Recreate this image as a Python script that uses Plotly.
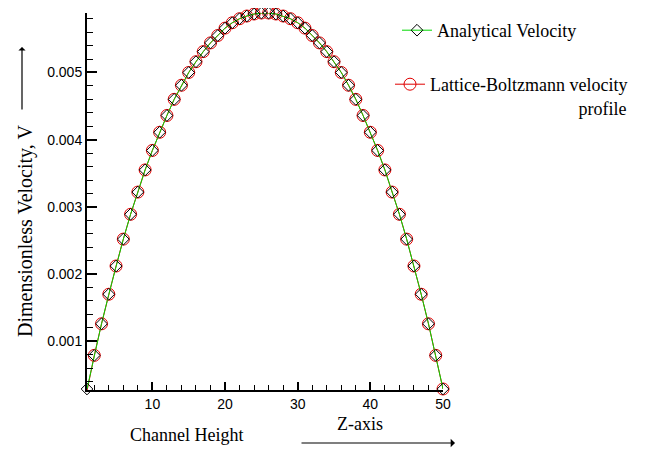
import plotly.graph_objects as go

# Channel node positions (Z-axis)
z_nodes = list(range(1, 51))

# Analytical velocity profile
analytical_v = [
    0.00029, 0.00079, 0.00126, 0.00170, 0.00212, 0.00252, 0.00289, 0.00322, 0.00355, 0.00384,
    0.00411, 0.00436, 0.00460, 0.00481, 0.00500, 0.00516, 0.00531, 0.00544, 0.00555, 0.00566,
    0.00574, 0.00580, 0.00584, 0.00587, 0.005885,
    0.005885, 0.00587, 0.00584, 0.00580, 0.00574, 0.00566, 0.00555, 0.00544, 0.00531, 0.00516,
    0.00500, 0.00481, 0.00460, 0.00436, 0.00411, 0.00384, 0.00355, 0.00322, 0.00289, 0.00252,
    0.00212, 0.00170, 0.00126, 0.00079, 0.00029,
]

# Lattice-Boltzmann velocity profile
lb_v = [
    0.00026, 0.00079, 0.00126, 0.00170, 0.00212, 0.00252, 0.00289, 0.00322, 0.00355, 0.00384,
    0.00411, 0.00436, 0.00460, 0.00481, 0.00500, 0.00516, 0.00531, 0.00544, 0.00555, 0.00566,
    0.00574, 0.00580, 0.00584, 0.00587, 0.005885,
    0.005885, 0.00587, 0.00584, 0.00580, 0.00574, 0.00566, 0.00555, 0.00544, 0.00531, 0.00516,
    0.00500, 0.00481, 0.00460, 0.00436, 0.00411, 0.00384, 0.00355, 0.00322, 0.00289, 0.00252,
    0.00212, 0.00170, 0.00126, 0.00079, 0.00029,
]

x_tickvals = [10, 20, 30, 40, 50]
y_tickvals = [0.001, 0.002, 0.003, 0.004, 0.005]
y_ticktext = ["0.001", "0.002", "0.003", "0.004", "0.005"]

SERIF = "Liberation Serif"
SANS = "Liberation Sans"
NB = "\u00a0"

# page body has an 8px margin: figure is drawn offset by OFF inside the window
OFF = 8
WIN_W, WIN_H = 659, 449
W, H = WIN_W - OFF, WIN_H - OFF

# plot area in window pixels
PL, PR, PT, PB = 87, 443, 13, 390
L, R, T, B = PL - OFF, W - (PR - OFF), PT - OFF, H - (PB - OFF)
pw, ph = W - L - R, H - T - B


def px2paper(px, py):
    fx, fy = px - OFF, py - OFF
    return (fx - L) / pw, (H - B - fy) / ph


def px2cont(px, py):
    return (px - OFF) / W, 1 - (py - OFF) / H


fig = go.Figure()

fig.add_trace(go.Scatter(
    x=z_nodes, y=lb_v, mode="lines+markers",
    name="Lattice-Boltzmann velocity<br>" + NB * 33 + "profile",
    line=dict(color="#e00000", width=1),
    marker=dict(symbol="circle-open", size=12, color="#e00000", line=dict(width=1, color="#e00000")),
    cliponaxis=False, legend="legend2",
))

fig.add_trace(go.Scatter(
    x=z_nodes, y=analytical_v, mode="lines+markers",
    name="Analytical Velocity",
    line=dict(color="#00d800", width=1),
    marker=dict(symbol="diamond-open", size=9, color="black", line=dict(width=1, color="black")),
    cliponaxis=False, legend="legend",
))

axis_common = dict(
    showgrid=False, zeroline=False, showline=True, linewidth=2, linecolor="black",
    ticks="inside", tickcolor="black", tickfont=dict(family=SANS, size=14, color="black"),
    mirror=False,
)

lx1, ly1 = px2cont(397, 12)
lx2, ly2 = px2cont(390, 66)

fig.update_layout(
    width=W, height=H,
    margin=dict(l=L, r=R, t=T, b=B, pad=0, autoexpand=False),
    paper_bgcolor="white", plot_bgcolor="white",
    showlegend=True,
    legend=dict(x=lx1, y=ly1, xref="container", yref="container", xanchor="left", yanchor="top",
                font=dict(family=SERIF, size=18, color="black"), bgcolor="rgba(0,0,0,0)",
                itemwidth=30),
    legend2=dict(x=lx2, y=ly2, xref="container", yref="container", xanchor="left", yanchor="top",
                 font=dict(family=SERIF, size=18, color="black"), bgcolor="rgba(0,0,0,0)",
                 itemwidth=30, valign="top"),
    xaxis=dict(axis_common, range=[1, 50], tickvals=x_tickvals, ticklen=8, tickwidth=2,
               minor=dict(dtick=2, tick0=0, ticks="inside", ticklen=5, tickwidth=1, tickcolor="black")),
    yaxis=dict(axis_common, range=[0.000275, 0.005885], tickvals=y_tickvals, ticktext=y_ticktext,
               ticklen=10, tickwidth=2,
               minor=dict(dtick=0.0002, tick0=0, ticks="inside", ticklen=6, tickwidth=1, tickcolor="black")),
)

ann = []
x0, y0 = px2paper(25, 231)
ann.append(dict(x=x0, y=y0, xref="paper", yref="paper", text="Dimensionless Velocity, V",
                textangle=-90, showarrow=False, xanchor="center", yanchor="middle",
                font=dict(family=SERIF, size=20, color="black")))
x0, y0 = px2paper(22, 47)
ann.append(dict(x=x0, y=y0, xref="paper", yref="paper", text="", showarrow=True,
                ax=0, ay=64, arrowhead=1, arrowsize=1, arrowwidth=1.2, arrowcolor="black"))
x0, y0 = px2paper(186, 435)
ann.append(dict(x=x0, y=y0, xref="paper", yref="paper", text="Channel Height", showarrow=False,
                xanchor="center", yanchor="middle", font=dict(family=SERIF, size=18, color="black")))
x0, y0 = px2paper(360, 424)
ann.append(dict(x=x0, y=y0, xref="paper", yref="paper", text="Z-axis", showarrow=False,
                xanchor="center", yanchor="middle", font=dict(family=SERIF, size=18, color="black")))
x0, y0 = px2paper(455, 443)
ann.append(dict(x=x0, y=y0, xref="paper", yref="paper", text="", showarrow=True,
                ax=-155, ay=0, arrowhead=1, arrowsize=1.2, arrowwidth=1.2, arrowcolor="black"))
fig.update_layout(annotations=ann)

fig.write_html("out.html")
